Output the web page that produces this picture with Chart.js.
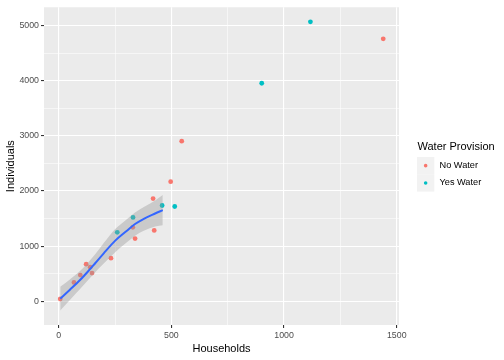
<!DOCTYPE html>
<html>
<head>
<meta charset="utf-8">
<script src="https://cdn.jsdelivr.net/npm/chart.js@4/dist/chart.umd.min.js"></script>
<style>
  html, body { margin: 0; padding: 0; background: #ffffff; }
  #wrap { width: 504px; height: 360px; }
</style>
</head>
<body>
<div id="wrap"><canvas id="c" width="504" height="360"></canvas></div>
<script>
// ---- data ----
const noWaterX = [7, 68, 96, 122, 140, 148, 232, 329, 339, 419, 424, 497, 546, 1440];
const noWaterY = [41, 342, 475, 673, 619, 511, 781, 1340, 1136, 1862, 1285, 2169, 2902, 4759];
const yesWaterX = [260, 330, 459, 515, 901, 1117];
const yesWaterY = [1250, 1520, 1736, 1718, 3953, 5066];

// loess smooth and its confidence band
const smoothX  = [7, 50, 96, 130, 162, 200, 251, 300, 339, 380, 428, 462];
const smoothY  = [48, 210, 390, 540, 690, 870, 1100, 1270, 1400, 1500, 1592, 1653];
const smoothLo = [-167, 25, 228, 380, 528, 685, 890, 1060, 1190, 1285, 1357, 1378];
const smoothHi = [263, 395, 552, 700, 852, 1055, 1310, 1480, 1610, 1715, 1827, 1928];

// ticks
const xMajorTicks = [0, 500, 1000, 1500];
const xMinorTicks = [250, 750, 1250];
const yMajorTicks = [0, 1000, 2000, 3000, 4000, 5000];
const yMinorTicks = [500, 1500, 2500, 3500, 4500];

const seriesNames = ['No Water', 'Yes Water'];
const seriesColors = ['#F8766D', '#00BFC4'];

const FONT = '"Liberation Sans", Arial, sans-serif';

const pts = (xs, ys) => xs.map((x, i) => ({ x: x, y: ys[i] }));

const panelBg = {
  id: 'panelBg',
  beforeDraw(chart) {
    const a = chart.chartArea, ctx = chart.ctx;
    ctx.save();
    ctx.fillStyle = '#EBEBEB';
    ctx.fillRect(a.left, a.top, a.right - a.left, a.bottom - a.top);
    ctx.restore();
  }
};

const ggLegend = {
  id: 'ggLegend',
  afterDraw(chart) {
    const ctx = chart.ctx;
    ctx.save();
    ctx.fillStyle = '#000000';
    ctx.textBaseline = 'middle';
    ctx.textAlign = 'left';
    ctx.font = '11px ' + FONT;
    ctx.fillText('Water Provision', 417.5, 147);
    const keyX = 417, keyY = 157, keyS = 17.3;
    seriesNames.forEach((name, i) => {
      const y0 = keyY + i * keyS;
      ctx.fillStyle = '#F2F2F2';
      ctx.fillRect(keyX, y0, keyS, keyS);
      ctx.fillStyle = seriesColors[i];
      ctx.beginPath();
      ctx.arc(keyX + keyS / 2, y0 + keyS / 2, 1.8, 0, Math.PI * 2);
      ctx.fill();
      ctx.fillStyle = '#000000';
      ctx.font = '9.2px ' + FONT;
      ctx.fillText(name, 439.5, y0 + keyS / 2);
    });
    ctx.restore();
  }
};

const isIn = (arr, v) => arr.indexOf(v) !== -1;

new Chart(document.getElementById('c'), {
  type: 'scatter',
  data: {
    datasets: [
      {
        label: 'lo', data: pts(smoothX, smoothLo), showLine: true,
        borderWidth: 0, borderColor: 'rgba(0,0,0,0)', pointRadius: 0, fill: false,
        cubicInterpolationMode: 'monotone', order: 2
      },
      {
        label: 'hi', data: pts(smoothX, smoothHi), showLine: true,
        borderWidth: 0, borderColor: 'rgba(0,0,0,0)', pointRadius: 0,
        fill: '-1', backgroundColor: 'rgba(153,153,153,0.4)',
        cubicInterpolationMode: 'monotone', order: 2
      },
      {
        label: 'smooth', data: pts(smoothX, smoothY), showLine: true,
        borderColor: '#3366FF', borderWidth: 2, pointRadius: 0, fill: false,
        cubicInterpolationMode: 'monotone', order: 1
      },
      {
        label: seriesNames[0], data: pts(noWaterX, noWaterY),
        backgroundColor: seriesColors[0], borderWidth: 0, pointRadius: 2.4, order: 3
      },
      {
        label: seriesNames[1], data: pts(yesWaterX, yesWaterY),
        backgroundColor: seriesColors[1], borderWidth: 0, pointRadius: 2.4, order: 3
      }
    ]
  },
  options: {
    responsive: false,
    animation: false,
    devicePixelRatio: 1,
    layout: { padding: { left: 0, right: 105, top: 5, bottom: 0 } },
    plugins: {
      legend: { display: false },
      tooltip: { enabled: false }
    },
    scales: {
      x: {
        type: 'linear',
        min: -65, max: 1510,
        afterFit(scale) { scale.height = 35; },
        afterBuildTicks(scale) {
          scale.ticks = xMajorTicks.concat(xMinorTicks).sort((a, b) => a - b).map(v => ({ value: v }));
        },
        border: { display: false },
        grid: {
          color: '#FFFFFF',
          lineWidth: c => (c.tick && isIn(xMajorTicks, c.tick.value)) ? 1.1 : 0.55,
          tickColor: c => (c.tick && isIn(xMajorTicks, c.tick.value)) ? '#333333' : 'rgba(0,0,0,0)',
          tickLength: 3,
          drawTicks: true
        },
        ticks: {
          autoSkip: false, maxRotation: 0, padding: 2,
          color: '#4D4D4D',
          font: { family: FONT, size: 8.8 },
          callback: v => isIn(xMajorTicks, v) ? String(v) : ''
        },
        title: {
          display: true, text: 'Households', color: '#000000',
          font: { family: FONT, size: 11 },
          padding: { top: 0, bottom: 4.4 }
        }
      },
      y: {
        type: 'linear',
        min: -430, max: 5330,
        afterFit(scale) { scale.width = 44; },
        afterBuildTicks(scale) {
          scale.ticks = yMajorTicks.concat(yMinorTicks).sort((a, b) => a - b).map(v => ({ value: v }));
        },
        border: { display: false },
        grid: {
          color: '#FFFFFF',
          lineWidth: c => (c.tick && isIn(yMajorTicks, c.tick.value)) ? 1.1 : 0.55,
          tickColor: c => (c.tick && isIn(yMajorTicks, c.tick.value)) ? '#333333' : 'rgba(0,0,0,0)',
          tickLength: 3,
          drawTicks: true
        },
        ticks: {
          autoSkip: false, padding: 2,
          color: '#4D4D4D',
          font: { family: FONT, size: 8.8 },
          callback: v => isIn(yMajorTicks, v) ? String(v) : ''
        },
        title: {
          display: true, text: 'Individuals', color: '#000000',
          font: { family: FONT, size: 11 },
          padding: { top: 4.4, bottom: 0 }
        }
      }
    }
  },
  plugins: [panelBg, ggLegend]
});
</script>
</body>
</html>
